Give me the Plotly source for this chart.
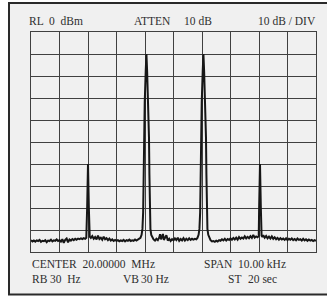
import plotly.graph_objects as go

# Sweep: frequency offset from 20.00000 MHz centre (kHz) and level (dBm)
noise_left_f = [-5.00, -4.95, -4.90, -4.85, -4.80, -4.75, -4.70, -4.65, -4.60, -4.55,
                -4.50, -4.45, -4.40, -4.35, -4.30, -4.25, -4.20, -4.15, -4.10, -4.05,
                -4.00, -3.95, -3.90, -3.85, -3.80, -3.75, -3.70, -3.65, -3.60, -3.55,
                -3.50, -3.45, -3.40, -3.35, -3.30, -3.25, -3.20, -3.15, -3.10, -3.06]
noise_left_db = [-94.6, -95.2, -94.8, -95.3, -94.7, -95.0, -94.5, -95.4, -94.9, -95.1,
                 -94.6, -95.5, -94.8, -95.0, -94.4, -95.2, -94.7, -94.9, -94.3, -95.0,
                 -94.6, -95.3, -94.2, -95.8, -94.5, -93.9, -95.6, -94.3, -94.8, -94.1,
                 -94.6, -94.0, -94.4, -93.9, -94.2, -93.8, -94.1, -93.7, -94.0, -93.5]

imd_low_f = [-3.03, -3.00, -2.97, -2.94]
imd_low_db = [-80.0, -60.0, -80.0, -93.0]

noise_mid1_f = [-2.90, -2.85, -2.80, -2.75, -2.70, -2.65, -2.60, -2.55, -2.50, -2.45,
                -2.40, -2.35, -2.30, -2.25, -2.20, -2.15, -2.10, -2.05, -2.00, -1.95,
                -1.90, -1.85, -1.80, -1.75, -1.70, -1.65, -1.60, -1.55, -1.50, -1.45,
                -1.40, -1.35, -1.30, -1.25, -1.20]
noise_mid1_db = [-93.6, -92.8, -94.0, -93.2, -94.3, -92.6, -94.1, -93.5, -94.4, -93.0,
                 -94.2, -93.7, -94.6, -93.9, -94.8, -94.3, -95.0, -94.5, -94.9, -94.6,
                 -95.1, -94.7, -95.0, -94.5, -95.2, -94.6, -94.9, -94.4, -95.0, -94.7,
                 -94.9, -94.3, -94.8, -94.5, -94.2]

tone1_f = [-1.16, -1.12, -1.09, -1.065, -1.055, -1.04, -1.01, -0.975, -0.95,
           -0.925, -0.89, -0.86, -0.845, -0.835, -0.81, -0.78, -0.74]
tone1_db = [-93.6, -92.2, -89.5, -82.0, -65.0, -48.0, -32.0, -18.0, -10.0,
            -18.0, -32.0, -48.0, -65.0, -82.0, -89.5, -92.2, -93.6]

noise_mid2_f = [-0.70, -0.65, -0.60, -0.55, -0.50, -0.47, -0.44, -0.40, -0.37, -0.34,
                -0.30, -0.25, -0.20, -0.15, -0.10, -0.05, 0.00, 0.05, 0.10, 0.15,
                0.20, 0.25, 0.30, 0.35, 0.40, 0.45, 0.50, 0.55, 0.60, 0.65,
                0.70, 0.75, 0.80]
noise_mid2_db = [-94.3, -94.8, -94.0, -94.6, -93.4, -91.9, -94.2, -93.0, -91.8, -94.5,
                 -93.6, -92.4, -94.8, -94.0, -95.0, -94.2, -94.7, -93.8, -94.6, -93.5,
                 -94.9, -94.1, -94.7, -93.7, -94.8, -94.0, -94.6, -93.8, -94.5, -94.0,
                 -94.4, -94.0, -94.2]

tone2_f = [0.84, 0.88, 0.91, 0.935, 0.945, 0.96, 0.99, 1.025, 1.05,
           1.075, 1.11, 1.14, 1.155, 1.165, 1.19, 1.22, 1.26]
tone2_db = [-93.6, -92.2, -89.5, -82.0, -65.0, -48.0, -32.0, -18.0, -10.0,
            -18.0, -32.0, -48.0, -65.0, -82.0, -89.5, -92.2, -93.6]

noise_mid3_f = [1.30, 1.35, 1.40, 1.45, 1.50, 1.55, 1.60, 1.65, 1.70, 1.75,
                1.80, 1.85, 1.90, 1.95, 2.00, 2.05, 2.10, 2.15, 2.20, 2.25,
                2.30, 2.35, 2.40, 2.45, 2.50, 2.55, 2.60, 2.65, 2.70, 2.75,
                2.80, 2.85, 2.90, 2.95, 2.99]
noise_mid3_db = [-94.6, -95.2, -95.0, -95.4, -94.9, -95.2, -94.6, -94.9, -94.2, -94.7,
                 -94.0, -94.8, -94.1, -94.5, -93.8, -94.4, -93.6, -94.3, -93.5, -94.4,
                 -93.2, -94.0, -93.4, -93.9, -92.9, -93.8, -93.1, -93.7, -92.8, -93.6,
                 -92.3, -93.5, -92.9, -93.3, -92.8]

imd_high_f = [3.005, 3.035, 3.065, 3.09]
imd_high_db = [-80.0, -60.0, -80.0, -92.6]

noise_right_f = [3.12, 3.15, 3.20, 3.25, 3.30, 3.35, 3.40, 3.45, 3.50, 3.55,
                 3.60, 3.65, 3.70, 3.75, 3.80, 3.85, 3.90, 3.95, 4.00, 4.05,
                 4.10, 4.15, 4.20, 4.25, 4.30, 4.35, 4.40, 4.45, 4.50, 4.55,
                 4.60, 4.65, 4.70, 4.75, 4.80, 4.85, 4.90, 4.95, 5.00]
noise_right_db = [-93.2, -92.4, -93.5, -92.7, -93.8, -93.0, -93.9, -92.9, -94.0, -93.3,
                  -94.2, -93.6, -94.4, -93.7, -94.3, -93.9, -94.5, -93.8, -94.6, -94.0,
                  -94.4, -93.8, -94.6, -94.1, -94.7, -93.9, -94.5, -94.2, -94.8, -94.0,
                  -94.7, -94.2, -94.9, -94.3, -94.8, -94.5, -95.0, -94.6, -94.9]

freq = (noise_left_f + imd_low_f + noise_mid1_f + tone1_f + noise_mid2_f
        + tone2_f + noise_mid3_f + imd_high_f + noise_right_f)
level = (noise_left_db + imd_low_db + noise_mid1_db + tone1_db + noise_mid2_db
         + tone2_db + noise_mid3_db + imd_high_db + noise_right_db)

W, H = 327, 297
L, R, T, B = 31, 316, 32, 252


def px(x):
    return (x - L) / (R - L)


def py(y):
    return (B - y) / (B - T)


fig = go.Figure()
fig.add_trace(go.Scatter(x=freq, y=level, mode="lines",
                         line=dict(color="#161616", width=2.0), hoverinfo="skip"))

FONT = dict(family="Liberation Serif, Times New Roman, serif", size=11.5, color="#2e2e2e")
labels = [
    ("RL  0  dBm", 28.3, 20.5, "left"),
    ("ATTEN", 132.7, 20.5, "left"), ("10 dB", 182.7, 20.5, "left"),
    ("10 dB / DIV", 317, 20.5, "right"),
    ("CENTER  20.00000  MHz", 31, 263.5, "left"),
    ("SPAN  10.00 kHz", 203.3, 263.5, "left"),
    ("RB", 31, 279, "left"), ("30  Hz", 49, 279, "left"),
    ("VB", 121.7, 279, "left"), ("30 Hz", 140, 279, "left"),
    ("ST", 226.7, 279, "left"), ("20 sec", 246.7, 279, "left"),
]
annotations = [dict(text=t, x=px(x), y=py(y), xref="paper", yref="paper",
                    xanchor=a, yanchor="middle", showarrow=False,
                    borderpad=0, font=FONT) for t, x, y, a in labels]

fig.update_layout(
    width=W, height=H,
    margin=dict(l=L, r=W - R, t=T, b=H - B),
    paper_bgcolor="#ffffff",
    plot_bgcolor="#f7f7f7",
    showlegend=False,
    annotations=annotations,
    shapes=[dict(type="rect", xref="paper", yref="paper", layer="below",
                 x0=px(9), x1=px(334), y0=py(294.5), y1=py(3),
                 line=dict(color="#2a2a2a", width=2), fillcolor="#f0f0f0")],
    xaxis=dict(range=[-5, 5], dtick=1, tick0=-5, showticklabels=False, ticks="",
               showgrid=True, gridcolor="#404040", gridwidth=1, zeroline=False,
               showline=True, linecolor="#404040", linewidth=1, mirror=True,
               fixedrange=True),
    yaxis=dict(range=[-100, 0], dtick=10, tick0=0, showticklabels=False, ticks="",
               showgrid=True, gridcolor="#404040", gridwidth=1, zeroline=False,
               showline=True, linecolor="#404040", linewidth=1, mirror=True,
               fixedrange=True),
)

fig.write_html("out.html", config=dict(displayModeBar=False),
               post_script="document.body.style.margin='0';document.body.style.overflow='hidden';")
